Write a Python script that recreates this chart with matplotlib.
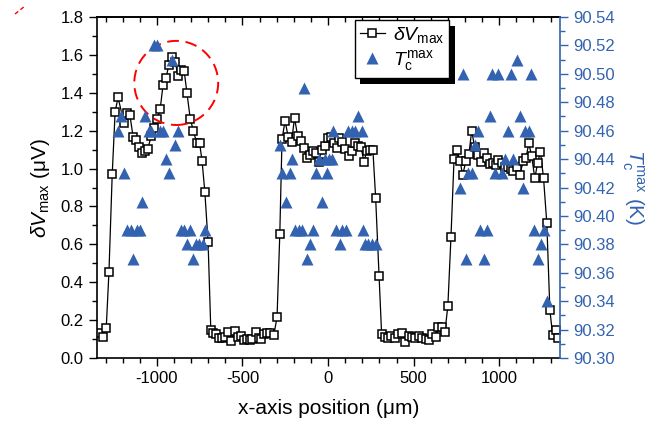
# Line scan of delta-V max and Tc max across the sample
import matplotlib.pyplot as plt
from matplotlib.patches import Ellipse, Rectangle
from matplotlib.lines import Line2D
from matplotlib.ticker import MultipleLocator

plt.rcParams['font.family'] = ['Liberation Sans', 'DejaVu Sans']
plt.rcParams['mathtext.fontset'] = 'custom'
plt.rcParams['mathtext.rm'] = 'Liberation Sans'
plt.rcParams['mathtext.it'] = 'Liberation Sans:italic'
plt.rcParams['mathtext.bf'] = 'Liberation Sans:bold'
plt.rcParams['axes.unicode_minus'] = False

BLUE = '#3363b0'

# ── δV_max along x (µm, µV) ─────────────────────────────
pos_dv = [-1333, -1315, -1296, -1280, -1261, -1244, -1227, -1193, -1176, -1158,
          -1139, -1121, -1104, -1088, -1071, -1053, -1033, -1017, -999, -981,
          -964, -946, -930, -912, -893, -876, -860, -841, -824, -805,
          -787, -768, -751, -736, -720, -701, -685, -670,
          -652, -635, -617, -600, -584, -565, -545, -525, -506, -490,
          -475, -457, -442, -422, -405, -390, -375, -356, -337, -317,
          -298, -282,
          -269, -251, -233, -213, -196, -178, -160, -142, -124, -106,
          -90, -72, -54, -36, -19, 0, 16, 33, 50, 66,
          84, 101, 120, 139, 158, 176, 192, 210, 227, 244,
          262, 278, 298, 313,
          330, 350, 370, 390, 410, 430, 450, 470, 490, 510,
          530, 550, 570, 590, 610, 630, 645, 665, 683, 700, 718,
          736, 753, 771, 786, 806, 823, 839, 856, 874, 893,
          911, 930, 946, 965, 979, 994, 1014, 1033, 1053, 1068,
          1082, 1101, 1121, 1140, 1156, 1173, 1189, 1208, 1224, 1241,
          1259, 1278, 1296, 1312, 1329, 1344]
dv_max = [0.13, 0.112, 0.157, 0.456, 0.970, 1.299, 1.376, 1.243, 1.293, 1.285,
          1.167, 1.150, 1.113, 1.081, 1.093, 1.105, 1.172, 1.213, 1.260, 1.313,
          1.441, 1.480, 1.549, 1.591, 1.561, 1.490, 1.518, 1.517, 1.397, 1.262,
          1.200, 1.137, 1.137, 1.040, 0.878, 0.614, 0.148, 0.132,
          0.125, 0.104, 0.107, 0.112, 0.139, 0.090, 0.143, 0.112, 0.118, 0.095,
          0.100, 0.095, 0.100, 0.139, 0.104, 0.101, 0.125, 0.134, 0.134, 0.121,
          0.215, 0.653,
          1.156, 1.251, 1.168, 1.142, 1.268, 1.173, 1.145, 1.107, 1.054, 1.072,
          1.093, 1.084, 1.033, 1.100, 1.121, 1.163, 1.165, 1.133, 1.110, 1.160,
          1.141, 1.105, 1.065, 1.092, 1.133, 1.120, 1.115, 1.036, 1.095, 1.100,
          1.098, 0.846, 0.435, 0.125,
          0.112, 0.104, 0.118, 0.104, 0.125, 0.130, 0.086, 0.118, 0.112, 0.104,
          0.118, 0.107, 0.099, 0.095, 0.125, 0.112, 0.162, 0.165, 0.139, 0.276, 0.637,
          1.049, 1.098, 1.042, 0.966, 1.040, 1.075, 1.200, 1.116, 1.072, 1.037,
          1.081, 1.054, 1.023, 1.028, 1.019, 1.046, 1.028, 1.010, 1.010, 1.000,
          0.988, 1.010, 0.966, 1.040, 1.057, 1.133, 1.068, 0.949, 1.028, 1.089,
          0.949, 0.711, 0.253, 0.121, 0.148, 0.107]

# ── Tc_max along x (µm, K) ──────────────────────────────
pos_tc = [-1228, -1208, -1195, -1173, -1153, -1140, -1118, -1100, -1088, -1068,
          -1049, -1033, -1018, -998, -981, -962, -946, -928, -911, -893,
          -874, -862, -839, -826, -804, -789, -774, -753, -730, -718,
          -278, -267, -243, -224, -210, -194, -169, -150, -140, -121,
          -107, -88, -68, -53, -33, -19, -6, 6, 22, 31,
          48, 68, 83, 107, 118, 138, 158, 177, 197, 204,
          216, 235, 255, 278,
          771, 790, 804, 819, 842, 858, 877, 887, 911, 926,
          946, 956, 975, 994, 1014, 1033, 1049, 1066, 1082, 1102,
          1119, 1137, 1150, 1173, 1187, 1204, 1224, 1243, 1263, 1277]
tc_max = [90.46, 90.47, 90.43, 90.39, 90.39, 90.37, 90.39, 90.39, 90.41, 90.47,
          90.46, 90.46, 90.52, 90.52, 90.46, 90.46, 90.44, 90.43, 90.51, 90.45,
          90.46, 90.39, 90.39, 90.38, 90.39, 90.37, 90.38, 90.38, 90.38, 90.39,
          90.45, 90.43, 90.41, 90.43, 90.44, 90.39, 90.39, 90.39, 90.49, 90.37,
          90.38, 90.39, 90.43, 90.44, 90.41, 90.44, 90.43, 90.44, 90.44, 90.46,
          90.39, 90.38, 90.39, 90.39, 90.46, 90.46, 90.46, 90.47, 90.46, 90.39,
          90.38, 90.38, 90.38, 90.38,
          90.42, 90.50, 90.37, 90.43, 90.43, 90.45, 90.46, 90.39, 90.37, 90.39,
          90.47, 90.50, 90.43, 90.50, 90.43, 90.44, 90.46, 90.50, 90.44, 90.51,
          90.47, 90.42, 90.46, 90.46, 90.50, 90.39, 90.37, 90.38, 90.39, 90.34]

fig = plt.figure(figsize=(6.62, 4.25), dpi=100)
ax = fig.add_axes([0.1465, 0.1576, 0.6994, 0.8024])
ax2 = ax.twinx()

h1, = ax.plot(pos_dv, dv_max, '-', color='black', lw=0.9, marker='s', ms=6.2,
              mfc='white', mec='black', mew=1.1, label=r'$\delta V_{\rm max}$')
h2, = ax2.plot(pos_tc, tc_max, '^', ls='none', color=BLUE, ms=8.5, mec='none',
               label=r'$T_{\rm c}^{\rm max}$')

# dashed ring round the peak
ax.add_patch(Ellipse((-887, 1.452), 490, 0.444, fill=False, ec='red',
                     lw=1.4, ls=(0, (6, 3.5)), zorder=3))

# axes ranges and ticks
ax.set_xlim(-1350, 1355)
ax.set_ylim(0.0, 1.8)
ax2.set_ylim(90.30, 90.54)

ax.xaxis.set_major_locator(MultipleLocator(500))
ax.xaxis.set_minor_locator(MultipleLocator(100))
ax.yaxis.set_major_locator(MultipleLocator(0.2))
ax.yaxis.set_minor_locator(MultipleLocator(0.1))
ax.yaxis.set_major_formatter('{x:.1f}')
ax2.yaxis.set_major_locator(MultipleLocator(0.02))
ax2.yaxis.set_minor_locator(MultipleLocator(0.01))
ax2.yaxis.set_major_formatter('{x:.2f}')

ax.tick_params(which='both', direction='out', labelsize=12, width=1.0,
               top=False, right=False)
ax.tick_params(which='major', length=6)
ax.tick_params(which='minor', length=3.5)

# top axis: ticks pointing inwards, no labels
top = ax.secondary_xaxis('top')
top.xaxis.set_major_locator(MultipleLocator(500))
top.xaxis.set_minor_locator(MultipleLocator(100))
top.tick_params(which='both', direction='in', labeltop=False, width=1.0)
top.tick_params(which='major', length=6)
top.tick_params(which='minor', length=3.5)
top.spines['top'].set_linewidth(1.2)

ax2.tick_params(which='both', direction='out', colors=BLUE, labelsize=12,
                width=1.0)
ax2.tick_params(which='major', length=6)
ax2.tick_params(which='minor', length=3.5)

for s in ['left', 'bottom', 'top']:
    ax.spines[s].set_linewidth(1.2)
ax.spines['right'].set_visible(False)
ax2.spines['right'].set_color(BLUE)
ax2.spines['right'].set_linewidth(1.2)
for s in ['left', 'bottom', 'top']:
    ax2.spines[s].set_visible(False)

ax.set_xlabel('x-axis position (μm)', fontsize=15, labelpad=9)
ax.set_ylabel(r'$\delta V_{\rm max}$ (μV)', fontsize=15, labelpad=6)
ax2.set_ylabel(r'$T_{\rm c}^{\rm max}$ (K)', fontsize=15, color=BLUE,
               rotation=270, labelpad=22)

leg = ax2.legend([h1, h2], [h1.get_label(), h2.get_label()],
                 loc='upper left', bbox_to_anchor=(0.557, 0.99),
                 borderaxespad=0, fontsize=14, frameon=True, fancybox=False,
                 framealpha=1, edgecolor='black', handlelength=1.3,
                 handletextpad=0.4, borderpad=0.25, labelspacing=0.15)
leg.get_frame().set_linewidth(1.0)
leg.set_zorder(10)

# solid black drop shadow behind the legend box
fig.canvas.draw()
bb = leg.get_window_extent().transformed(ax2.transAxes.inverted())
dx, dy = 5.5 / (0.6994 * 662), 5.5 / (0.8024 * 425)
ax2.add_patch(Rectangle((bb.x0 + dx, bb.y0 - dy), bb.width, bb.height,
                        transform=ax2.transAxes, facecolor='black',
                        edgecolor='none', zorder=9, clip_on=False))

# small red stroke in the upper-left corner
fig.add_artist(Line2D([15 / 662, 25 / 662], [1 - 14 / 425, 1 - 6 / 425],
                      transform=fig.transFigure, color='red', lw=1.0,
                      ls=(0, (3, 2))))

fig.savefig('out.png', dpi=100)
